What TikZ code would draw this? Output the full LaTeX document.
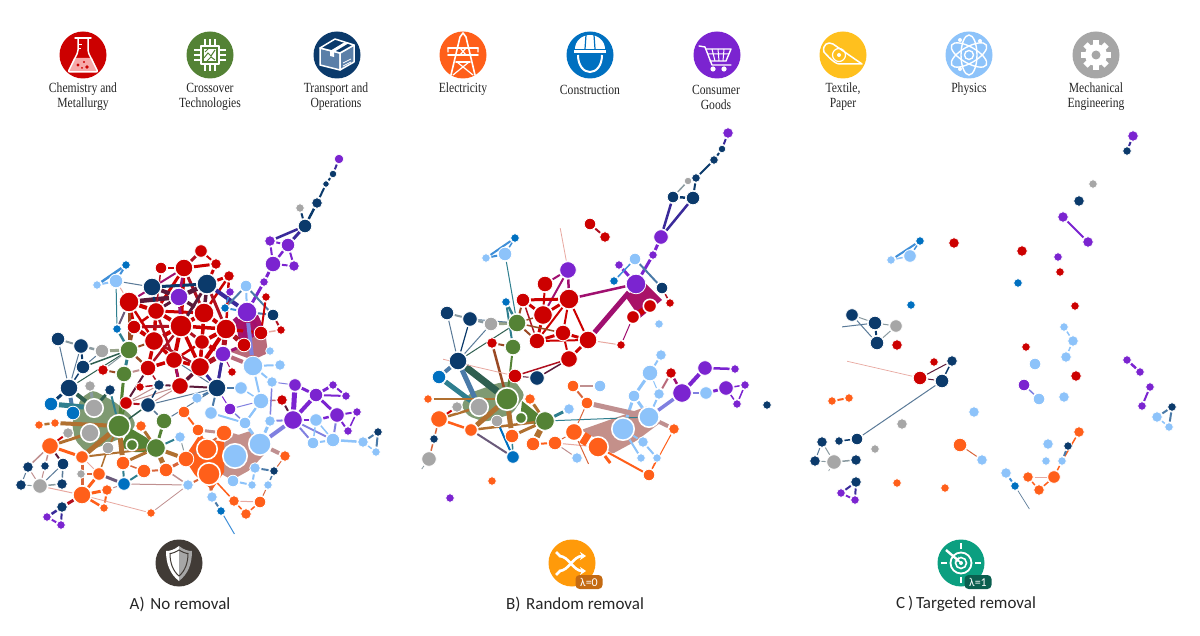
\documentclass[tikz,border=0pt]{standalone}
\usepackage{fontspec}
\usetikzlibrary{arrows.meta}
\newfontfamily\lbf[FakeStretch=0.83]{Liberation Serif}
\newfontfamily\capf{Carlito}
\definecolor{rd}{HTML}{CC0000}\definecolor{gre}{HTML}{548235}\definecolor{nav}{HTML}{0B3A6B}
\definecolor{or}{HTML}{FF5F1A}\definecolor{con}{HTML}{0070C0}\definecolor{pur}{HTML}{7B24D0}
\definecolor{lb}{HTML}{8DC3FA}\definecolor{gry}{HTML}{A6A6A6}\definecolor{yel}{HTML}{FFC01E}
\definecolor{er}{HTML}{B01020}\definecolor{em}{HTML}{A01070}\definecolor{ed}{HTML}{5B1A3A}
\definecolor{eb}{HTML}{B07030}\definecolor{ebd}{HTML}{9A4A25}\definecolor{ev}{HTML}{3A2A9A}
\definecolor{es}{HTML}{4A7AA8}\definecolor{ec}{HTML}{3F8FD8}\definecolor{et}{HTML}{2F7F8F}
\definecolor{eg}{HTML}{2F5F50}\definecolor{ea}{HTML}{9AA58C}\definecolor{ey}{HTML}{8A9AA0}
\definecolor{en}{HTML}{5A7A98}\definecolor{ep}{HTML}{E8A8A0}\definecolor{eo}{HTML}{D9653A}
\definecolor{er2}{HTML}{C09090}\definecolor{ef}{HTML}{8080E0}\definecolor{ew}{HTML}{6A5A7A}
\definecolor{blobg}{HTML}{7F9A72}\definecolor{blobr}{HTML}{C4908A}\definecolor{blobm}{HTML}{A91268}
\definecolor{blobv}{HTML}{B96A7A}\definecolor{flp}{HTML}{F6A9A9}\definecolor{boxb}{HTML}{5B7FA8}
\definecolor{shd}{HTML}{413B36}\definecolor{shuf}{HTML}{FF9A0A}\definecolor{tgt}{HTML}{0B9F80}
\definecolor{shufb}{HTML}{C46A12}\definecolor{tgtb}{HTML}{0B5F4F}
\pgfdeclarelayer{bg}\pgfsetlayers{bg,main}
\tikzset{x=1pt,y=-1pt,
 nd/.style={circle,inner sep=0pt,outer sep=0pt,draw=white,line width=0.8pt},
 ring/.style={line width=1.6pt},
 edgeln/.style={shorten >=1.2pt,shorten <=1.2pt},
 lab/.style={font=\lbf\fontsize{14}{15}\selectfont,align=center,text=black!85,inner sep=0pt},
 capl/.style={font=\capf\fontsize{17}{18}\selectfont,text=black!85,inner sep=0pt},
 ic/.style={draw=white,line width=1.5pt,line cap=round,line join=round},
 badge/.style={rounded corners=4pt,text=white,font=\capf\fontsize{12}{12}\selectfont,inner sep=0pt,minimum width=27pt,minimum height=14pt},
 disc/.style={circle,inner sep=0pt,outer sep=0pt,minimum size=47pt}}
\newcommand\nodelist[2]{\foreach \nn/\nx/\ny/\nr/\nc in {#2}{\node[nd,fill=\nc,minimum size={2*\nr pt+1.6pt}] (#1\nn) at (\nx,\ny) {};}}
\newcommand\edgelist[2]{\foreach \ep/\eq/\ew/\ec in {#2}{\draw[edgeln,line width=\ew pt,draw=\ec] (#1\ep) -- (#1\eq);}}
\begin{document}
\begin{tikzpicture}
\useasboundingbox (0,0) rectangle (1200,636);
% ---------- legend discs ----------
\node[disc,fill=rd]   (d1) at (83,55) {};
\node[disc,fill=gre]  (d2) at (210,55) {};
\node[disc,fill=nav]  (d3) at (337,55) {};
\node[disc,fill=or]   (d4) at (463,55) {};
\node[disc,fill=con]  (d5) at (590,55) {};
\node[disc,fill=pur]  (d6) at (717,55) {};
\node[disc,fill=yel]  (d7) at (843,55) {};
\node[disc,fill=lb]   (d8) at (969,55) {};
\node[disc,fill=gry]  (d9) at (1096,55) {};
\node[lab] (t1) at (83,97) {Chemistry and\\Metallurgy};
\node[lab] (t2) at (210,97) {Crossover\\Technologies};
\node[lab] (t3) at (336,97) {Transport and\\Operations};
\node[lab] (t4) at (463,89.5) {Electricity};
\node[lab] (t5) at (590,89.5) {Construction};
\node[lab] (t6) at (716,97) {Consumer\\Goods};
\node[lab] (t7) at (843,97) {Textile,\\Paper};
\node[lab] (t8) at (969,89.5) {Physics};
\node[lab] (t9) at (1096,97) {Mechanical\\Engineering};
% flask
\begin{scope}[shift={(83,55)}]
\fill[flp] (-9,3) -- (9,3) -- (15,17) -- (-15,17) -- cycle;
\draw[ic,rounded corners=2pt] (-5,-16) -- (-5,-3) -- (-15,17) -- (15,17) -- (5,-3) -- (5,-16);
\draw[ic] (-8,-17) -- (8,-17);
\draw[white,line width=0.8pt] (-5,-11) -- (-1,-11) (-5,-7) -- (-2,-7);
\fill[rd] (-5,10) circle (1.6) (1,7) circle (1.2) (4,12) circle (1.8) (-1,13) circle (1);
\end{scope}
% chip
\begin{scope}[shift={(210,55)}]
\draw[ic] (-9,-9) rectangle (9,9);
\foreach \k in {-5,0,5}{\draw[white,line width=1.3pt] (\k,-16) -- (\k,-10) (\k,10) -- (\k,16) (-16,\k) -- (-10,\k) (10,\k) -- (16,\k);}
\fill[white] (-6,-6) rectangle (6,6);
\draw[gre,line width=1pt] (-6,3) -- (-2,-2) -- (1,1) -- (5,-5) (-3,6) -- (1,2) -- (5,5) (-5,-3) -- (-2,-6);
\end{scope}
% parcel
\begin{scope}[shift={(337,55)}]
\draw[ic,fill=boxb] (-17,-7) -- (3,-2) -- (3,15) -- (-17,10) -- cycle;
\draw[ic,fill=boxb] (3,-2) -- (17,-10) -- (17,7) -- (3,15) -- cycle;
\draw[ic,fill=nav] (-17,-7) -- (-2,-16) -- (17,-10) -- (3,-2) -- cycle;
\fill[white] (-7,-4) -- (8,-13) -- (12,-12) -- (-3,-3) -- cycle;
\fill[white] (-7,-4) -- (-3,-3) -- (-3,2) -- (-7,1) -- cycle;
\draw[white,line width=0.8pt] (6,8) -- (14,4) (6,11) -- (14,7);
\end{scope}
% pylon
\begin{scope}[shift={(463,55)}]
\draw[ic,line width=1.6pt] (-12,20) -- (-3,-18) -- (0,-22) -- (3,-18) -- (12,20);
\draw[ic,line width=1.6pt] (-15,-7) -- (15,-7) (-15,0) -- (15,0) (-7,7) -- (7,7);
\draw[ic,line width=1.2pt] (-15,-7) -- (-15,-3) (15,-7) -- (15,-3) (-6,7) -- (10,20) (6,7) -- (-10,20) (-3,-7) -- (3,0) (3,-7) -- (-3,0);
\end{scope}
% helmet
\begin{scope}[shift={(590,55)}]
\fill[white] (-15,-6) arc (180:360:15 and 14) -- cycle;
\fill[white] (-16,-5) rectangle (16,-2);
\draw[con,line width=1.2pt] (-4,-20) -- (-5,-6) (4,-20) -- (5,-6);
\draw[white,line width=2pt] (-12,0) .. controls (-12,11) and (-6,17) .. (0,17) .. controls (6,17) and (12,11) .. (12,0);
\end{scope}
% cart
\begin{scope}[shift={(717,55)}]
\draw[ic,line width=1.4pt] (-18,-9) -- (-12,-8) -- (-5,10) -- (14,10);
\draw[ic,line width=1.4pt] (-11,-6) -- (14,-6) -- (9,6) -- (-7,6);
\draw[white,line width=1pt] (-9,-1) -- (12,-1) (-5,-6) -- (-2,6) (1,-6) -- (2,6) (7,-6) -- (6,6);
\fill[white] (-4,14) circle (2.6) (7,14) circle (2.6);
\end{scope}
% roll
\begin{scope}[shift={(843,55)}]
\draw[ic] (-19,-3) .. controls (-21,-10) and (-15,-14) .. (-10,-11) -- (19,9) -- (-2,9) .. controls (-6,10) and (-12,5) .. (-19,-3) -- cycle;
\draw[ic,line width=1.2pt] (-4,0) circle (6.5);
\fill[white] (-4,0) circle (2);
\end{scope}
% atom
\begin{scope}[shift={(969,55)}]
\foreach \k in {30,90,150}{\draw[white,line width=1.4pt,rotate=\k] (0,0) ellipse (20 and 8);}
\draw[white,line width=1.4pt] (0,0) circle (4.5);
\fill[white] (-9,-15) circle (2) (11,-14) circle (2) (-9,14) circle (2);
\end{scope}
% gear
\begin{scope}[shift={(1096,55)}]
\fill[white] (0,0) circle (11);
\foreach \k in {0,45,...,315}{\fill[white,rotate=\k] (-3,-15) rectangle (3,-9);}
\fill[gry] (0,0) circle (4.5);
\end{scope}
% ---------- panel A nodes ----------
\nodelist{a}{1/339/159/4/pur,2/333/174/3/nav,3/326/184/2.5/nav,4/317/203/4.5/nav,5/300/208/3.5/gry,6/305/226/6/nav,
8/270/241/4.5/pur,9/288/245/6/pur,10/273/264/7/pur,11/294/266/4.5/pur,12/264/282/3.5/pur,13/201/251/5.5/rd,14/216/264/4.5/rd,15/161/268/5/rd,16/184/268/8/rd,17/229/276/4.5/rd,18/126/265/3.5/con,19/116/281/6/lb,20/97/285/3.5/lb,21/152/287/8/nav,22/179/297/8/pur,23/207/284/9/nav,24/246/286/5/lb,25/230/292/3.5/pur,26/266/297/3.5/rd,27/129/302/9/rd,28/156/311/7.5/rd,29/204/313/9/rd,30/225/308/3.5/con,31/247/312/9/pur,32/273/315/5/nav,33/134/327/6/rd,34/181/326/10/rd,35/226/329/9/rd,36/281/330/3.5/rd,37/117/329/3.5/con,38/261/333/6/rd,39/58/339/6/nav,40/81/346/6.5/nav,41/154/341/8.5/rd,42/202/342/6.5/rd,43/244/345/6/rd,44/102/351/6/gry,45/129/350/8/gre,46/270/351/3.5/lb,47/223/354/7/pur,48/174/360/7.5/rd,49/253/366/9/lb,50/280/365/4.5/lb,51/83/367/6/nav,52/103/370/4.5/rd,53/148/368/7/rd,54/200/367/8.5/rd,55/232/372/3.5/rd,56/124/374/7/gre,57/295/385/5.5/pur,58/333/385/3.5/pur,59/272/382/4.5/lb,60/69/388/8/nav,61/90/386/4.5/gry,62/110/390/4.5/nav,63/140/387/3.5/rd,64/159/385/4.5/nav,65/180/386/7.5/rd,66/217/388/8/nav,67/241/388/5.5/lb,68/316/395/6/pur,69/346/396/3.5/pur,70/197/398/4.5/lb,71/261/401/7/lb,72/282/400/4.5/rd,73/51/404/6/con,74/126/403/5.5/rd,75/148/405/6.5/nav,77/73/413/6/con,78/230/409/5/pur,79/184/412/5/or,80/211/413/5.5/lb,81/337/415/6.5/pur,82/357/412/3.5/pur,83/293/420/8.5/pur,84/316/420/5.5/lb,85/245/423/5/lb,86/270/421/4.5/lb,87/164/421/7/gre,89/141/426/4.5/or,90/39/425/3.5/or,91/55/423/3.5/or,92/198/430/5/or,93/224/433/7/or,94/348/431/3.5/pur,95/378/432/3.5/nav,96/68/433/4.5/gry,98/180/437/4.5/lb,99/333/440/6/lb,100/313/443/5/lb,101/363/442/4.5/lb,104/50/446/7.5/or,105/156/448/8.5/gre,106/108/448/5/gry,108/376/452/3.5/lb,110/285/456/4.5/or,111/82/457/5.5/or,112/186/459/7/or,113/123/463/6/or,114/63/464/5/nav,115/28/467/4.5/nav,116/45/466/3.5/nav,117/255/468/4.5/lb,118/274/471/3.5/nav,119/144/471/6/or,120/166/470/6/or,121/99/474/5.5/or,122/81/474/3.5/gry,124/233/481/5/lb,125/124/484/5.5/con,126/21/485/4.5/nav,127/40/486/6.5/gry,128/62/484/4.5/nav,129/188/485/4.5/lb,130/252/485/3.5/lb,131/268/485/3.5/lb,132/107/490/4.5/or,133/82/495/8/or,134/212/497/4.5/lb,135/234/501/4.5/or,136/260/502/5/or,137/62/507/4.5/nav,138/104/508/3.5/or,139/221/511/3.5/con,140/151/513/3.5/or,141/246/514/4.5/or,142/47/517/3.5/pur,143/61/525/3.5/pur}
\foreach \nn/\nx/\ny/\nr/\nc in {76/94/408/8/gry,88/119/426/10/gre,97/90/433/8/gry,102/260/444/10/lb,103/132/445/4.5/gre,107/207/449/9/or,109/235/456/11/lb,123/209/474/10/or}{\node[nd,ring,fill=\nc,minimum size={2*\nr pt+2.4pt}] (a\nn) at (\nx,\ny) {};}
\coordinate (a144) at (235,535);
% ---------- panel B nodes ----------
\nodelist{b}{1/728/133/4.5/pur,2/722/149/3/nav,3/714/160/3.5/nav,4/688/181/3/gry,5/696/178/3.5/nav,6/673/197/5/nav,7/693/198/6/nav,8/590/224/5/rd,9/605/237/4.5/rd,10/661/237/6.5/pur,11/653/255/3.5/pur,12/635/259/5/lb,13/619/265/3.5/pur,14/614/281/3.5/con,15/636/284/9/pur,16/662/288/5/nav,17/670/303/3.5/rd,20/659/324/3.5/lb,21/621/345/3.5/rd,22/588/340/8/rd,23/569/359/7.5/rd,24/563/333/7/rd,25/537/341/7/rd,26/543/315/8.5/rd,27/569/299/9/rd,28/568/270/7.5/pur,29/545/284/7/rd,30/523/300/6/rd,31/486/258/3.5/lb,32/505/254/6/lb,33/515/238/3.5/con,34/506/302/3.5/con,35/517/323/8/gre,36/513/347/7/gre,37/491/324/6/gry,38/470/319/6.5/nav,39/447/313/6/nav,40/492/343/4.5/rd,41/458/361/8/nav,42/439/377/6/con,43/515/376/6/rd,44/537/378/6.5/nav,45/428/399/3.5/or,46/457/407/4.5/gry,49/530/399/4.5/or,51/497/421/5/gry,52/545/421/8.5/gre,53/569/409/4.5/lb,54/439/419/7.5/or,55/471/430/5.5/or,56/512/436/6/or,57/533/444/6/or,58/555/443/6/or,63/674/429/4.5/or,64/643/442/4.5/lb,65/641/458/3.5/lb,66/657/458/3.5/lb,67/649/475/5/or,68/577/458/4.5/lb,69/513/457/5.5/con,70/434/439/3.5/nav,71/429/459/6.5/gry,72/492/481/3.5/or,73/450/498/3.5/pur,74/573/386/5/or,75/600/386/5/lb,76/587/403/5/or,77/661/355/4.5/lb,78/650/373/7/lb,79/671/373/4.5/rd,80/634/396/5/lb,81/659/394/4.5/lb,82/682/393/8.5/pur,83/706/393/5.5/lb,84/705/368/6.5/pur,85/735/369/3.5/pur,86/726/388/6.5/pur,87/745/385/3.5/pur,88/737/404/3.5/pur,89/767/405/3.5/nav}
\foreach \nn/\nx/\ny/\nr/\nc in {18/650/306/5.5/rd,19/633/317/5.5/rd,47/479/407/8/gry,48/507/399/10/gre,50/521/418/4.5/gre,59/574/432/7.5/or,60/598/447/9/or,61/623/429/10/lb,62/649/417/9/lb}{\node[nd,ring,fill=\nc,minimum size={2*\nr pt+2.4pt}] (b\nn) at (\nx,\ny) {};}
\coordinate (b90) at (560,227);\coordinate (b91) at (442,359);\coordinate (b92) at (421,470);\coordinate (b93) at (611,464);\coordinate (b94) at (589,465);
% ---------- panel C nodes ----------
\nodelist{c}{1/1133/136/4.5/pur,2/1127/151/3.5/nav,3/1093/184/3.5/gry,4/1079/201/4.5/nav,5/1063/217/4.5/pur,6/1088/242/4.5/pur,7/920/241/3.5/con,8/910/256/5.5/lb,9/891/260/3.5/lb,10/954/243/4.5/rd,11/1022/251/4.5/rd,12/1058/257/3.5/pur,13/1060/272/3.5/rd,14/1018/283/3.5/con,15/911/305/3.5/con,16/1075/306/3.5/rd,17/852/315/5.5/nav,18/875/323/6/nav,19/896/326/5.5/gry,20/877/343/6/nav,21/897/345/4.5/rd,22/1064/327/3.5/lb,23/1073/341/4.5/lb,24/1026/347/3.5/rd,25/1066/357/4.5/lb,26/1035/364/5/lb,27/934/362/3.5/rd,28/952/361/4.5/nav,29/920/378/6/rd,30/942/381/6/nav,31/1076/376/4.5/rd,32/1024/385/5/pur,33/1039/399/5/lb,34/1064/397/4.5/lb,35/1127/360/3.5/pur,36/1140/372/3.5/pur,37/1150/387/3.5/pur,38/1142/406/3.5/pur,39/1172/407/3.5/nav,40/1157/417/4.5/lb,41/1169/427/3.5/lb,42/832/401/3.5/or,43/849/398/3.5/or,44/974/412/4.5/lb,45/902/424/4.5/gry,46/1079/432/4.5/or,47/857/439/5/nav,48/839/441/3.5/nav,49/822/442/4.5/nav,50/960/445/6/or,51/1048/444/4.5/lb,52/1068/446/3.5/nav,53/875/449/3.5/gry,54/982/460/4.5/lb,55/815/461/4.5/nav,56/834/462/6.5/gry,57/856/460/4.5/nav,58/1046/461/3.5/lb,59/1062/461/3.5/lb,60/1006/473/4.5/lb,61/1028/477/4.5/or,62/1054/477/5.5/or,63/856/482/4.5/nav,64/897/483/3.5/or,65/945/488/3.5/or,66/1015/486/3.5/con,67/1039/490/4.5/or,68/841/493/3.5/pur,69/855/500/3.5/pur}
\coordinate (c70) at (846,361);\coordinate (c71) at (1030,510);\coordinate (c72) at (841,327);\coordinate (c73) at (828,472);
% ---------- removal icons ----------
\node[disc,fill=shd]  (r1) at (179,563) {};
\node[disc,fill=shuf] (r2) at (572,563) {};
\node[disc,fill=tgt]  (r3) at (961,563) {};
\begin{scope}[shift={(179,563)}]
\fill[white] (0,-17) .. controls (-5,-13) and (-9,-12) .. (-13,-12) .. controls (-13,1) and (-9,11) .. (0,18) -- cycle;
\fill[gry] (0,-17) .. controls (5,-13) and (9,-12) .. (13,-12) .. controls (13,1) and (9,11) .. (0,18) -- cycle;
\draw[shd,line width=1pt] (0,-13) .. controls (-3,-11) and (-7,-9.5) .. (-9,-9.5) .. controls (-9,0) and (-6,8) .. (0,13) .. controls (6,8) and (9,0) .. (9,-9.5) .. controls (7,-9.5) and (3,-11) .. (0,-13) -- cycle;
\end{scope}
\begin{scope}[shift={(572,563)},line width=2.6pt,white]
\draw[-{Stealth[length=6pt,width=8pt]}] (-13,-7) .. controls (-3,-7) and (1,8) .. (14,8);
\draw[-{Stealth[length=6pt,width=8pt]}] (-13,8) .. controls (-3,8) and (1,-7) .. (14,-7);
\draw (-16,-11) -- (-12,-7) (-16,12) -- (-12,8);
\end{scope}
\begin{scope}[shift={(961,563)},white]
\draw[line width=1.8pt] (0,0) circle (10.5);
\draw[line width=1.6pt] (0,0) circle (5.5);
\fill (0,0) circle (2);
\draw[line width=1.8pt] (0,-20) -- (0,-14) (0,14) -- (0,20) (-20,0) -- (-14,0) (14,0) -- (20,0);
\draw[line width=2.4pt,-{Stealth[length=5pt,width=6pt]}] (-15,-13) -- (-1,-1);
\end{scope}
\node[badge,fill=shufb] (b0) at (589,582) {λ=0};
\node[badge,fill=tgtb]  (b1tag) at (978,582) {λ=1};
\node[capl] (ca) at (180,604) {A)\,\,No removal};
\node[capl] (cb) at (575,604) {B)\,\,Random removal};
\node[capl] (cc) at (966,604) {C\,)\,Targeted removal};
% ---------- connectors ----------
\begin{pgfonlayer}{bg}
\fill[white] (0,0) rectangle (1200,636);
% blobs panel A
\fill[blobg,rounded corners=4pt] (93,390) -- (115,402) -- (132,416) -- (136,426) -- (122,438) -- (86,452) -- (75,440) -- (72,423) -- (81,398) -- cycle;
\fill[gre] (130,428) -- (147,438) -- (160,452) -- (135,452) -- (120,447) -- cycle;
\fill[blobr,rounded corners=2pt] (218,447) -- (232,437) -- (250,431) -- (272,446) -- (250,470) -- (232,480) -- (218,472) -- cycle;
\fill[or] (184,458) -- (198,437) -- (224,442) -- (224,472) -- (212,490) -- (195,475) -- cycle;
\fill[blobv] (253,335) -- (266,338) -- (268,353) -- (253,360) -- (231,352) -- cycle;
\fill[blobm] (235,320) -- (258,315) -- (265,330) -- (240,345) -- cycle;
% blobs panel B
\fill[blobm] (625,296) -- (645,283) -- (662,300) -- (640,318) -- cycle;
\fill[blobg,rounded corners=4pt] (461,405) -- (470,393) -- (498,383) -- (515,381) -- (525,395) -- (512,414) -- (485,422) -- (468,416) -- cycle;
\fill[gre] (522,401) -- (537,413) -- (545,421) -- (535,424) -- (520,420) -- cycle;
\fill[blobr,rounded corners=2pt] (581,430) -- (615,418) -- (648,406) -- (660,423) -- (636,441) -- (612,454) -- (595,438) -- cycle;
% panel A edges
\edgelist{a}{1/2/2/ev,2/3/2/nav,3/4/2/nav,4/6/2.5/nav,5/6/2/nav,6/9/3/ev,6/8/2.5/ev,8/10/2/pur,8/9/2/pur,9/10/2.5/pur,9/11/2/pur,10/11/2/pur,10/12/3/pur,12/31/3/pur,13/16/3/er,13/14/2/rd,15/16/2.5/rd,14/16/3/rd,16/28/3/rd,16/29/3/er,16/34/3.5/rd,14/23/3/rd,23/17/3/rd,21/23/3/nav,21/27/1/ep,21/22/4/ed,27/22/4.5/ed,27/28/4/rd,28/34/4/rd,28/41/3.5/rd,27/33/3.5/rd,33/41/4/rd,33/45/2/ebd,27/45/3/ebd,34/29/4/rd,34/41/4/rd,34/48/4/rd,34/53/2.5/er,41/48/3.5/rd,41/53/3.5/rd,53/48/3.5/rd,48/54/3.5/rd,29/35/4/rd,29/42/3.5/rd,35/42/4/rd,42/54/3.5/rd,35/47/5/er,54/47/5/er,34/42/3/er,34/35/3.5/rd,28/29/3/rd,29/22/3.5/ed,22/23/4.5/ed,16/22/2.5/em,15/28/1.5/er,27/16/2/em,28/33/2.5/rd,33/34/3/er,27/41/2.5/rd,34/54/3.5/rd,29/54/3/rd,28/48/2.5/er,41/54/2.5/er,48/42/2.5/rd,48/65/2.5/ed,35/54/4/rd,42/47/4/rd,29/17/2.5/rd,23/29/3.5/ed,23/34/3/ed,22/34/3/em,22/28/3/ed,21/28/2/nav,23/35/3/er,54/65/3.5/er,65/48/3/er,35/38/3/rd,35/17/2.5/rd,53/74/2/ed,53/56/2/er2,66/54/3/ev,66/47/2.5/ev,66/48/1/en,64/53/1.5/er,31/35/6/em,31/43/4/em,31/38/3/em,35/43/5/er,23/31/4/ev,31/24/2/lb,25/30/1.5/ec,31/30/2/ec,31/32/2/es,24/32/2/es,24/30/2/es,26/38/2/rd,32/36/2/er,36/38/1.5/ep,38/49/5/blobv,43/49/6/blobv,31/49/4/ef,47/49/4/blobv,43/47/3/em,18/19/2/ec,18/20/2.5/ec,19/20/2/lb,19/21/1/en,19/27/1/ep,19/37/1/et,37/45/2.5/et,37/27/2/ew,39/40/2/ey,39/60/1/en,40/44/2.5/ey,40/51/2/nav,40/60/1/en,44/45/3/ea,44/51/1/en,45/51/1.5/eg,45/60/1/eg,45/56/3/et,52/56/2/ebd,45/53/2.5/ebd,45/41/2/ebd,52/45/1/ey,51/60/1.5/nav,56/88/3/gre,60/73/3/nav,60/77/4/es,60/76/4/eg,73/76/5/et,61/76/3/ey,62/76/3/eg,62/88/2/et,63/64/1.5/er,74/75/2/er,74/64/1/er2,74/65/1/er2,75/65/1/er2,75/64/1.5/nav,64/65/2/ed,75/88/1.5/eg,74/88/2/gre,75/66/1/en,75/87/1.5/en,87/66/1/en,66/67/2/es,66/70/2/es,66/80/2/es,90/91/2.5/eb,91/88/4/eb,104/97/3/eb,104/111/3/or,104/96/2/rd,88/113/5/eb,88/111/5/eb,88/106/2/eb,89/105/3/eb,87/105/3/gre,98/105/2/et,105/120/5/eb,105/113/3/eb,105/112/4/eb,105/111/2/eb,111/121/1/ep,106/121/1.5/eb,125/121/3/ew,125/113/2/et,125/119/2/et,121/122/1.5/eo,121/133/3/or,111/133/3/eo,133/132/3/or,132/125/1/er2,133/138/2.5/or,133/137/3/er,133/127/1/ep,132/138/2/or,133/140/0.8/ep,140/129/0.8/er2,125/129/1/er2,127/126/1/ey,127/128/1.5/ey,127/115/1/er2,127/116/1/er2,114/104/2/ed,115/104/1.5/er2,116/104/1.5/er2,126/115/1/en,128/114/1.5/en,114/127/1/en,137/142/2.5/ev,137/143/2/ev,142/143/2/pur,119/120/2/eo,120/112/3/eo,119/113/1.5/eo,79/92/2/or,92/93/3/er2,92/107/3/or,93/102/5/blobr,102/110/4/er2,112/107/8/or,118/117/2/es,118/110/1/eo,118/131/1.5/es,124/130/2/lb,117/130/2/lb,123/134/3/eo,131/136/1/eo,134/139/2/es,139/144/1/ec,135/136/1/ep,135/141/1.5/or,136/141/1.5/or,135/123/1.5/or,102/83/4/ef,102/85/3/lb,102/86/3/lb,85/71/2/lb,86/83/2/ef,83/57/5/pur,83/68/4/pur,68/57/3/pur,68/58/3/pur,68/69/2/pur,58/69/2/pur,68/81/3/pur,83/84/2/pur,81/84/2.5/pur,81/82/2/pur,82/94/1.5/pur,94/81/2/pur,83/99/2/ef,83/100/2/ef,100/99/2/lb,99/101/2.5/lb,101/108/1.5/lb,101/95/2/es,95/108/2/es,84/100/1.5/lb,84/99/1.5/lb,81/99/2/ef,72/83/2/ed,72/71/1.5/blobv,71/78/1/ef,78/66/1/pur,71/85/2/lb,71/49/2/lb,49/59/2/lb,49/50/2/lb,59/86/1.5/ef,59/57/1/ef,78/85/1.5/ef,80/85/2/lb,67/71/1.5/lb,47/55/1/em,65/66/2/ed,47/66/3/ev,54/65/3/ed,48/65/2/em,112/93/2/eo,98/112/1/ey,129/123/2/eo,120/129/1.5/er2}
% panel B edges
\edgelist{b}{1/2/2/ev,2/3/2/nav,3/5/2/nav,5/7/2/nav,4/6/1.5/ey,6/7/2.5/nav,7/10/2.5/ev,6/10/2.5/ev,10/11/3/pur,11/15/3/pur,13/15/3/pur,12/14/1.5/ec,12/16/2/es,16/17/1.5/er,8/9/2/er,15/27/2.5/em,15/22/5/em,22/27/2/rd,22/24/3/rd,22/23/3/rd,22/21/1/ep,21/19/1/em,18/19/6/rd,23/43/1.5/er,23/44/1.5/ed,24/23/2/rd,24/25/3/rd,25/27/2/rd,26/27/3/rd,26/29/2/rd,26/30/3/rd,26/28/2/em,27/30/3/rd,27/28/2.5/em,28/29/2/em,27/24/2/rd,25/26/3/rd,22/25/2/rd,30/25/1.5/er,30/35/2/ebd,35/25/2/ebd,35/26/1.5/ebd,35/24/1.5/ebd,34/35/2.5/et,31/33/2/ec,31/32/2/ec,32/33/1.5/ec,32/35/1/et,35/37/3/ea,35/38/1/en,35/41/1/eg,37/38/2.5/ey,38/39/2/ey,38/41/1.2/nav,37/41/1/en,39/41/1/en,34/36/2/et,36/48/2/gre,40/36/2/ebd,40/48/2.5/ebd,41/42/4/es,41/48/7/eg,41/47/5/es,42/47/5/et,43/44/1/ed,28/90/0.8/ep,43/91/0.8/ep,45/48/2.5/eb,54/46/2/rd,54/47/2.5/eb,54/55/2.5/or,55/48/5/eb,55/52/2.5/eb,56/48/5/eb,49/52/3/eb,52/56/3/eb,52/57/6/eb,55/69/2/ew,56/69/1.5/et,69/51/2/con,52/53/3/et,52/62/1/et,57/58/2/or,58/59/1/eo,58/68/1/er2,58/60/1/ep,59/60/12/or,60/67/2/or,60/93/3/or,59/94/1/eo,67/63/1/or,67/66/1/or,63/62/4/er2,62/82/3.5/ef,62/80/3/lb,62/81/2/lb,78/80/3/lb,78/77/2/lb,78/81/1/lb,80/61/3/lb,79/82/2.5/em,79/81/2/blobv,82/84/4/pur,82/83/2.5/ef,83/86/3/pur,84/85/2.5/pur,86/87/1.5/pur,86/88/1.5/pur,87/88/1.5/pur,61/64/2/lb,64/66/2/lb,61/65/2/lb,74/75/2.5/er2,74/76/2/eo,76/59/1/eo,76/62/5/er2,71/70/1.5/eo,70/54/1.5/eo,71/92/0.8/ey}
% panel C edges
\edgelist{c}{1/2/2/ev,5/6/2/pur,7/8/1.5/ec,7/9/2/ec,8/9/1.5/lb,17/18/1/ey,18/19/1/ey,18/20/2/nav,19/20/1/ey,17/20/1/en,18/72/1/en,22/23/1.5/lb,23/25/1.5/lb,28/29/1/ed,28/30/1.5/nav,29/30/1/ed,29/70/0.7/ep,30/47/1/en,47/48/1.5/nav,49/55/1/en,49/56/1/ey,55/56/1/ey,56/57/1.5/ey,56/73/0.7/ey,63/68/2/ev,63/69/2/ev,68/69/2/pur,32/33/1.5/ef,50/54/1/eo,35/36/2.5/pur,37/38/2/pur,39/40/2/es,39/41/2/es,40/41/1.5/lb,42/43/2/or,60/66/2/ec,66/71/0.7/en,61/62/1/ep,61/67/1.5/or,62/67/1.5/or,62/59/1.5/or,59/46/1.5/or,59/52/2/es}
\end{pgfonlayer}
\end{tikzpicture}
\end{document}
